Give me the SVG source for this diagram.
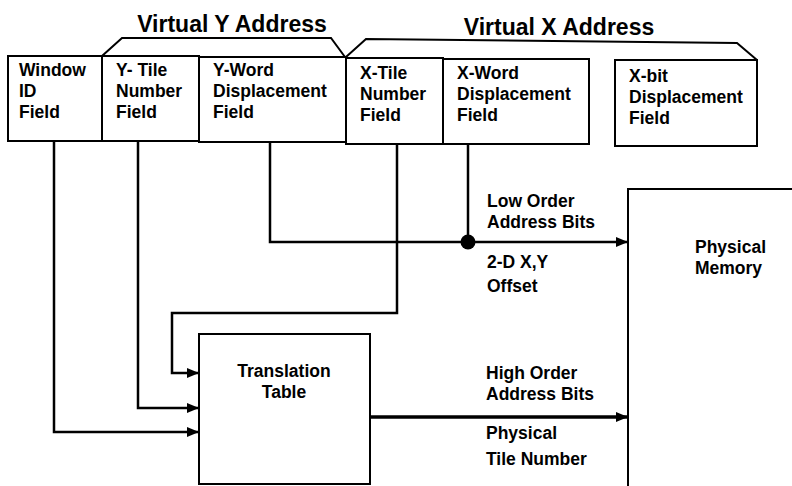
<svg xmlns="http://www.w3.org/2000/svg" width="792" height="486" viewBox="0 0 792 486">
<style>
  .box { fill: #fff; stroke: #000; stroke-width: 2; }
  .t { font-family: "Liberation Sans", Arial, sans-serif; font-weight: bold; font-size: 17.5px; fill: #000; }
  .title { font-family: "Liberation Sans", Arial, sans-serif; font-weight: bold; font-size: 23px; fill: #000; }
  .c { fill: none; stroke: #000; stroke-width: 2.5; }
  .brace { fill: none; stroke: #000; stroke-width: 2; }
</style>
<defs>
  <marker id="ah" viewBox="0 0 12 10" refX="12" refY="5" markerWidth="12" markerHeight="10" markerUnits="userSpaceOnUse" orient="auto">
    <path d="M0,0 L12,5 L0,10 Z" fill="#000"/>
  </marker>
</defs>
<rect width="792" height="486" fill="#fff"/>

<g id="brace-y">
  <polyline class="brace" points="102,56 122,38 331,38 345,57"/>
  <text class="title" x="232" y="32" text-anchor="middle">Virtual Y Address</text>
</g>
<g id="brace-x">
  <polyline class="brace" points="346,57 366,39 737,43 757,60"/>
  <text class="title" x="559" y="35" text-anchor="middle">Virtual X Address</text>
</g>

<g id="window-id">
  <rect class="box" x="8" y="56" width="94" height="85"/>
  <text class="t" x="19" y="76">Window</text>
  <text class="t" x="19" y="97">ID</text>
  <text class="t" x="19" y="118">Field</text>
</g>
<g id="y-tile">
  <rect class="box" x="102" y="56" width="97" height="85"/>
  <text class="t" x="116" y="76">Y- Tile</text>
  <text class="t" x="116" y="97">Number</text>
  <text class="t" x="116" y="118">Field</text>
</g>
<g id="y-word">
  <rect class="box" x="199" y="57" width="147" height="85"/>
  <text class="t" x="213" y="76">Y-Word</text>
  <text class="t" x="213" y="97">Displacement</text>
  <text class="t" x="213" y="118">Field</text>
</g>
<g id="x-tile">
  <rect class="box" x="346" y="58" width="97" height="86"/>
  <text class="t" x="360" y="79">X-Tile</text>
  <text class="t" x="360" y="100">Number</text>
  <text class="t" x="360" y="121">Field</text>
</g>
<g id="x-word">
  <rect class="box" x="443" y="59" width="146" height="85"/>
  <text class="t" x="457" y="79">X-Word</text>
  <text class="t" x="457" y="100">Displacement</text>
  <text class="t" x="457" y="121">Field</text>
</g>
<g id="x-bit">
  <rect class="box" x="615" y="60" width="142" height="86"/>
  <text class="t" x="629" y="82">X-bit</text>
  <text class="t" x="629" y="103">Displacement</text>
  <text class="t" x="629" y="124">Field</text>
</g>

<g id="translation-table">
  <rect class="box" x="199" y="334" width="171" height="150"/>
  <text class="t" x="284" y="377" text-anchor="middle">Translation</text>
  <text class="t" x="284" y="398" text-anchor="middle">Table</text>
</g>

<g id="physical-memory">
  <polyline class="box" points="628,490 628,189 800,189" style="fill:#fff"/>
  <text class="t" x="695" y="253">Physical</text>
  <text class="t" x="695" y="274">Memory</text>
</g>

<g id="connectors">
  <polyline class="c" points="54,141 54,432 199,432" marker-end="url(#ah)"/>
  <polyline class="c" points="138,141 138,408 199,408" marker-end="url(#ah)"/>
  <polyline class="c" points="397,144 397,313 172,313 172,373 199,373" marker-end="url(#ah)"/>
  <polyline class="c" points="270,142 270,242 628,242" marker-end="url(#ah)"/>
  <line class="c" x1="468" y1="144" x2="468" y2="242"/>
  <circle cx="468" cy="242" r="7.5" fill="#000"/>
  <line class="c" x1="370" y1="417" x2="628" y2="417" style="stroke-width:3.5" marker-end="url(#ah)"/>
</g>

<g id="labels">
  <text class="t" x="487" y="207">Low Order</text>
  <text class="t" x="487" y="228">Address Bits</text>
  <text class="t" x="487" y="268">2-D X,Y</text>
  <text class="t" x="487" y="292">Offset</text>
  <text class="t" x="486" y="379">High Order</text>
  <text class="t" x="486" y="400">Address Bits</text>
  <text class="t" x="486" y="439">Physical</text>
  <text class="t" x="486" y="465">Tile Number</text>
</g>
</svg>
